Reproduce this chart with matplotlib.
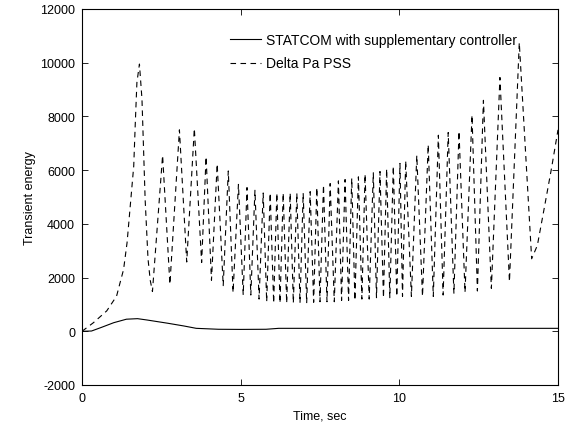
import matplotlib
matplotlib.use("Agg")
import matplotlib.pyplot as plt

plt.rcParams['font.family'] = ['Liberation Sans', 'DejaVu Sans']
plt.rcParams['axes.unicode_minus'] = False

# STATCOM with supplementary controller (solid)
statcom_t = [0, 0.3, 0.6, 1.0, 1.4, 1.75, 2.05, 2.7, 3.2, 3.6, 4.3, 5.0, 5.8, 6.2, 15]
statcom_v = [0, 10, 140, 320, 450, 470, 420, 300, 200, 110, 75, 70, 75, 110, 110]

# Delta Pa PSS (dashed)
pss_t = [0, 0.36, 0.78, 1.09, 1.2, 1.31, 1.42, 1.52, 1.63, 1.68, 1.73, 1.81, 1.89, 1.99, 2.08, 2.15, 2.22,
         2.54, 2.77, 3.07, 3.30, 3.54, 3.77, 3.91, 4.08, 4.26, 4.45, 4.61, 4.76, 4.93, 5.08, 5.20, 5.32,
         5.45, 5.58, 5.71, 5.82, 5.93, 6.04, 6.14, 6.24, 6.34, 6.45, 6.56, 6.66, 6.77, 6.87, 6.97, 7.08,
         7.19, 7.30, 7.40, 7.50, 7.61, 7.72, 7.82, 7.95, 8.08, 8.18, 8.29, 8.40, 8.50, 8.60, 8.71, 8.82,
         8.92, 9.05, 9.18, 9.28, 9.39, 9.50, 9.60, 9.70, 9.81, 9.92, 10.02, 10.10, 10.20, 10.38, 10.55,
         10.73, 10.91, 11.07, 11.23, 11.38, 11.54, 11.72, 11.88, 12.07, 12.29, 12.46, 12.65, 12.90, 13.17,
         13.47, 13.78, 14.17, 14.35, 14.6, 14.8, 15.0]
pss_v = [0, 320, 760, 1310, 1810, 2300, 3300, 4660, 6150, 7770, 9260, 9950, 8640, 4900, 2700, 1900, 1480,
         6550, 1750, 7500, 2580, 7550, 2560, 6500, 1900, 6230, 1700, 5970, 1440, 5470, 1350, 5350, 1350,
         5250, 1200, 5150, 1100, 5150, 1050, 5150, 1050, 5150, 1050, 5150, 1050, 5150, 1050, 5150, 1050,
         5200, 1080, 5350, 1100, 5450, 1100, 5500, 1100, 5600, 1150, 5650, 1150, 5700, 1150, 5750, 1200,
         5850, 1200, 5900, 1250, 5950, 1250, 6050, 1250, 6150, 1300, 6250, 1300, 6350, 1300, 6550,
         1300, 6950, 1300, 7300, 1350, 7400, 1400, 7450, 1450, 8050, 1500, 8600, 1600, 9450,
         1850, 10750, 2700, 3200, 4800, 6100, 7500]

x_ticks = [0, 5, 10, 15]
y_ticks = [-2000, 0, 2000, 4000, 6000, 8000, 10000, 12000]

fig = plt.figure(figsize=(5.74, 4.27), dpi=100)
ax = fig.add_axes([82/574, 1-386/427, 476/574, 376/427])

ax.plot(statcom_t, statcom_v, color='black', lw=0.8, label='STATCOM with supplementary controller')
ax.plot(pss_t, pss_v, color='black', lw=0.8, linestyle=(0, (5, 4)), label='Delta Pa PSS')

ax.set_xlim(0, 15)
ax.set_ylim(-2000, 12000)
ax.set_xticks(x_ticks)
ax.set_yticks(y_ticks)
ax.tick_params(direction='in', top=True, right=True, labelsize=9, length=4, width=0.6, pad=5)
for s in ax.spines.values():
    s.set_linewidth(0.8)
ax.set_xlabel('Time, sec', fontsize=9)
ax.set_ylabel('Transient energy', fontsize=9, labelpad=3)

ax.legend(loc='upper left', bbox_to_anchor=(0.30, 0.95), frameon=False, fontsize=10,
          handlelength=2.2, handletextpad=0.4, labelspacing=0.65, borderaxespad=0)

fig.savefig('out.png', dpi=100)
